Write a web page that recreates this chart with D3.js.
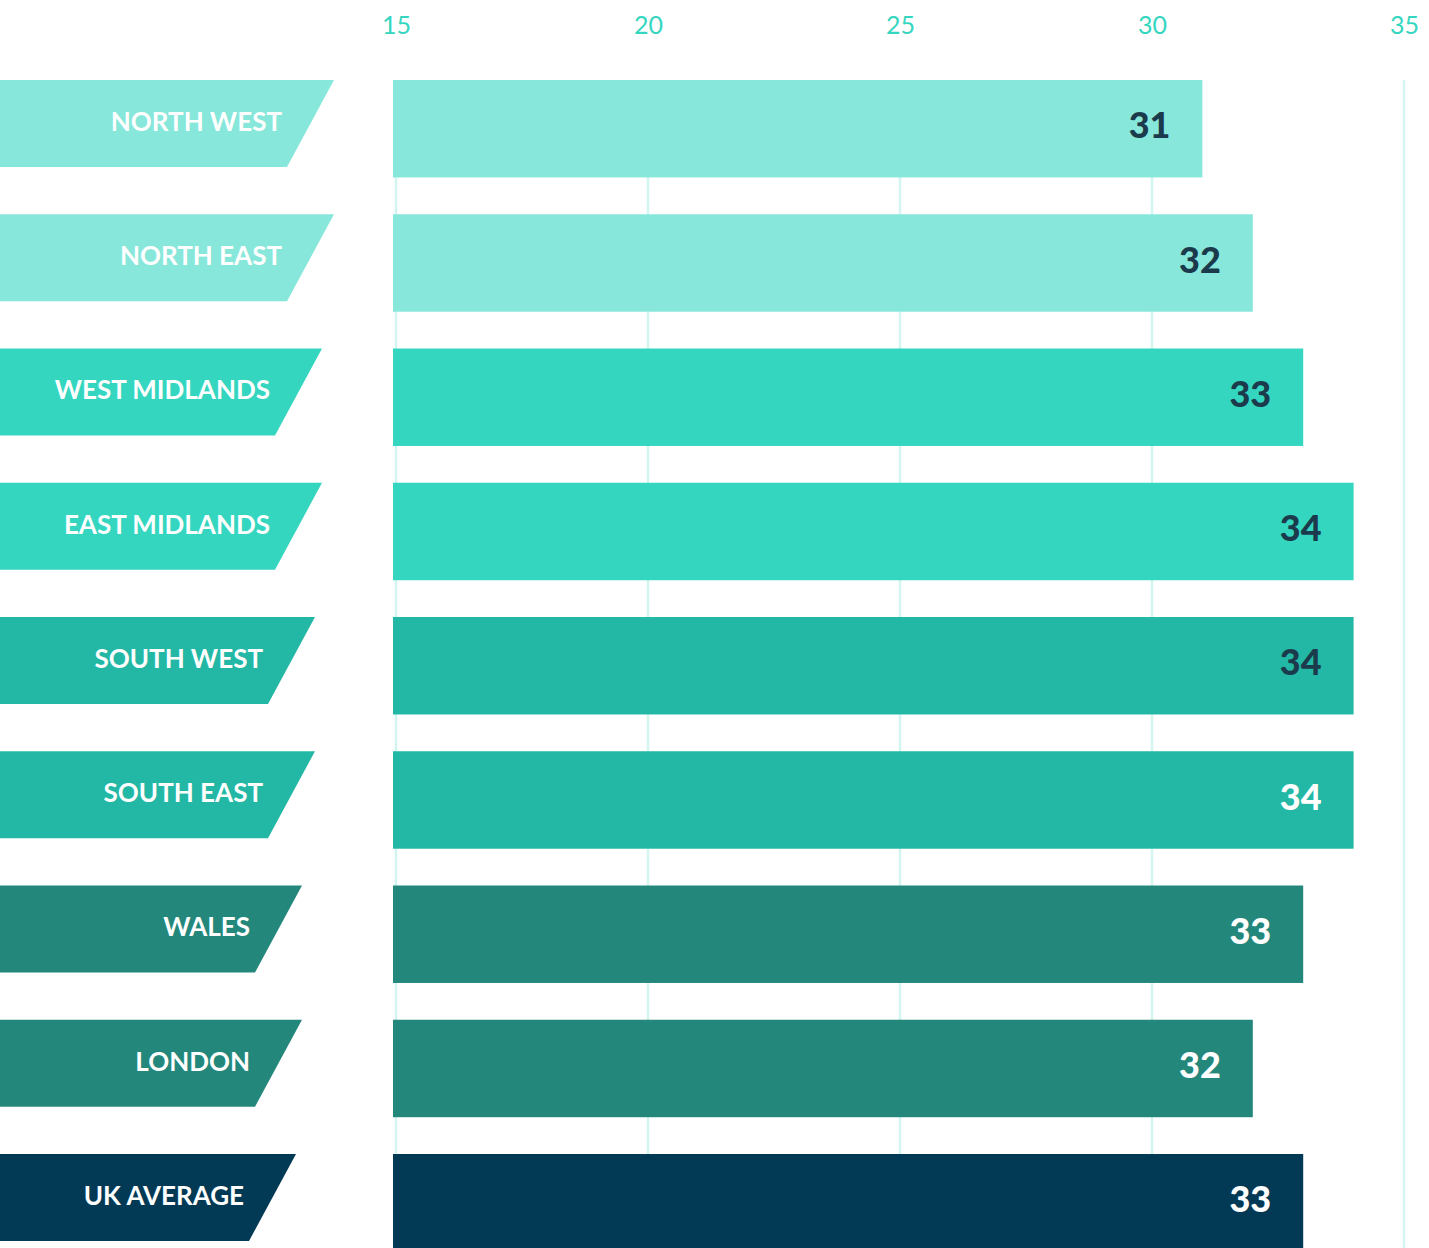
<!DOCTYPE html>
<html>
<head>
<meta charset="utf-8">
<script src="https://cdn.jsdelivr.net/npm/d3@7"></script>
<style>
  html, body { margin: 0; padding: 0; background: #ffffff; }
  svg { display: block; }
</style>
</head>
<body>
<svg id="chart" width="1429" height="1248"></svg>
<script>
// ---- data ----
const categories = ["NORTH WEST", "NORTH EAST", "WEST MIDLANDS", "EAST MIDLANDS", "SOUTH WEST", "SOUTH EAST", "WALES", "LONDON", "UK AVERAGE"];
const values = [31, 32, 33, 34, 34, 34, 33, 32, 33];
const groups = ["north", "north", "midlands", "midlands", "south", "south", "wales-london", "wales-london", "uk"];
const tickValues = [15, 20, 25, 30, 35];

// ---- styles ----
const groupFill = {
  "north": "#87e7da",
  "midlands": "#34d6c0",
  "south": "#23b8a5",
  "wales-london": "#23877c",
  "uk": "#023955"
};
const groupTabRight = { "north": 334, "midlands": 322, "south": 315, "wales-london": 302, "uk": 296 };
const valueTextColor = ["#1b3a4b", "#1b3a4b", "#1b3a4b", "#1b3a4b", "#1b3a4b", "#ffffff", "#ffffff", "#ffffff", "#ffffff"];

const svg = d3.select("#chart");
const W = 1429, H = 1248;

const x = d3.scaleLinear().domain([15, 35]).range([396, 1404]);
const step = 134.25, pad = 0.274;
const y = d3.scaleBand().domain(categories)
  .range([80, 80 + step * (categories.length - pad)])
  .paddingInner(pad).paddingOuter(0);

// gridlines
svg.append("g").selectAll("line").data(tickValues).join("line")
  .attr("x1", d => x(d)).attr("x2", d => x(d))
  .attr("y1", 80).attr("y2", H)
  .attr("stroke", "#d3f5f0").attr("stroke-width", 2.5);

// top axis tick labels
const axis = d3.axisTop(x).tickValues(tickValues).tickSize(0).tickPadding(0);
const axG = svg.append("g").attr("transform", "translate(0,34)").call(axis);
axG.select(".domain").remove();
axG.selectAll("text")
  .attr("fill", "#35d6c0")
  .attr("font-family", "Lato, 'Open Sans', sans-serif")
  .attr("font-size", 25)
  .attr("dy", 0);

// bars
const barX0 = x(15) - 3;
svg.append("g").selectAll("rect").data(categories).join("rect")
  .attr("x", barX0)
  .attr("y", d => y(d))
  .attr("width", (d, i) => x(values[i]) - barX0)
  .attr("height", y.bandwidth())
  .attr("fill", (d, i) => groupFill[groups[i]]);

// value labels
svg.append("g").selectAll("text").data(categories).join("text")
  .attr("x", (d, i) => x(values[i]) - 32)
  .attr("y", d => y(d) + y.bandwidth() / 2)
  .attr("dy", "0.27em")
  .attr("text-anchor", "end")
  .attr("font-family", "Lato, 'Open Sans', sans-serif")
  .attr("font-weight", 900)
  .attr("font-size", 36)
  .attr("fill", (d, i) => valueTextColor[i])
  .text((d, i) => values[i]);

// category tabs
const tabH = 87, slant = 47;
const tabs = svg.append("g").selectAll("g").data(categories).join("g");
tabs.append("path")
  .attr("d", (d, i) => {
    const r = groupTabRight[groups[i]];
    const t = y(d);
    return `M0,${t}L${r},${t}L${r - slant},${t + tabH}L0,${t + tabH}Z`;
  })
  .attr("fill", (d, i) => groupFill[groups[i]]);
tabs.append("text")
  .attr("x", (d, i) => groupTabRight[groups[i]] - 52)
  .attr("y", d => y(d) + tabH / 2 - 2)
  .attr("dy", "0.36em")
  .attr("text-anchor", "end")
  .attr("font-family", "Lato, 'Open Sans', sans-serif")
  .attr("font-weight", 700)
  .attr("font-size", 26)
  .attr("fill", "#ffffff")
  .text(d => d);
</script>
</body>
</html>
